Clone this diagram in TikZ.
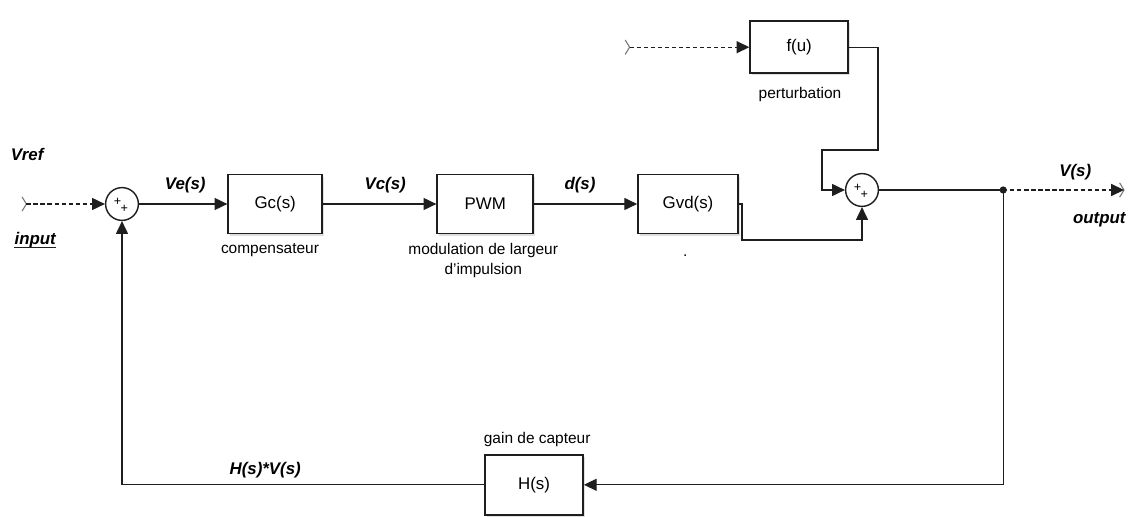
\documentclass[tikz,border=0pt]{standalone}
\usepackage{fontspec}
\setmainfont{Liberation Sans}
\usetikzlibrary{arrows.meta,shadows}
\definecolor{SLLine}{HTML}{1E1E1E}
\definecolor{SLPort}{HTML}{7A7A7A}

\begin{document}
\begin{tikzpicture}[x=1cm,y=1cm,
  blk/.style={draw=SLLine,line width=1.2pt,fill=white,minimum width=2.4cm,minimum height=1.5cm,
    font=\fontsize{12}{14}\selectfont,drop shadow={shadow xshift=1.5pt,shadow yshift=-1.5pt,opacity=.25}},
  sumblk/.style={draw=SLLine,line width=1pt,fill=white,circle,minimum size=0.82cm,inner sep=0pt},
  sig/.style={font=\fontsize{12}{14}\selectfont\bfseries\itshape},
  lbl/.style={font=\fontsize{11}{14}\selectfont},
  wire/.style={draw=SLLine,line width=0.9pt},
  arr/.style={wire,-{Triangle[length=0.32cm,width=0.3cm]}},
  darr/.style={arr,dash pattern=on 3pt off 2pt}]
\path[use as bounding box] (0,0) rectangle (28.20,12.90);
% blocks
\node[sumblk] (sum1) at (3.05,7.80) {};
\node[blk,minimum width=2.35cm,minimum height=1.48cm] (gc) at (6.88,7.80) {Gc(s)};
\node[blk,minimum width=2.40cm,minimum height=1.48cm] (pwm) at (12.13,7.80) {PWM};
\node[blk,minimum width=2.50cm,minimum height=1.48cm] (gvd) at (17.20,7.80) {Gvd(s)};
\node[sumblk] (sum2) at (21.55,8.15) {};
\node[blk,minimum width=2.45cm,minimum height=1.30cm] (fu) at (19.98,11.72) {f(u)};
\node[blk,minimum width=2.45cm,minimum height=1.50cm] (hs) at (13.35,0.78) {H(s)};
% signs of the sums
\foreach \s in {sum1,sum2}{
  \node[font=\fontsize{9}{9}\selectfont,inner sep=0pt] at ([shift={(-0.11,0.06)}]\s.center) {+};
  \node[font=\fontsize{9}{9}\selectfont,inner sep=0pt] at ([shift={(0.06,-0.11)}]\s.center) {+};
}
% ports
\coordinate (inport) at (0.66,7.80);
\coordinate (pertport) at (15.74,11.72);
\coordinate (outport) at (28.10,8.15);
\draw[SLPort,line width=0.8pt] (0.55,7.98) -- (inport) -- (0.55,7.62);
\draw[SLPort,line width=0.8pt] (15.63,11.90) -- (pertport) -- (15.63,11.54);
\draw[SLPort,line width=0.8pt] (27.99,8.33) -- (outport) -- (27.99,7.97);
\coordinate (branch) at (25.08,8.15);
\fill[SLLine] (branch) circle (0.09);
% connectors
\draw[darr] (inport) -- (sum1);
\draw[arr] (sum1) -- (gc);
\draw[arr] (gc) -- (pwm);
\draw[arr] (pwm) -- (gvd);
\draw[arr] (gvd.east) -- (18.55,7.80) -- (18.55,6.90) -| (sum2.south);
\draw[darr] (pertport) -- (fu);
\draw[arr] (fu.east) -| (21.95,9.15) -| (20.55,8.15) -- (sum2.west);
\draw[wire] (sum2) -- (branch);
\draw[darr] (branch) -- (outport);
\draw[arr] (branch) |- (hs.east);
\draw[arr] (hs.west) -| (sum1.south);
% labels
\node[sig] (vref) at (0.68,9.03) {Vref};
\node[sig,inner sep=0pt] (inlbl) at (0.88,6.90) {input};
\draw[SLLine,line width=0.8pt] ([yshift=-2pt]inlbl.base west) -- ([yshift=-2pt]inlbl.base east);
\node[sig] (ve) at (4.63,8.28) {Ve(s)};
\node[sig] (vc) at (9.63,8.28) {Vc(s)};
\node[sig] (ds) at (14.50,8.28) {d(s)};
\node[sig] (vs) at (26.88,8.60) {V(s)};
\node[sig,anchor=east,inner sep=1pt] (outlbl) at (28.18,7.40) {output};
\node[sig] (hv) at (6.63,1.15) {H(s)*V(s)};
\node[lbl] (comp) at (6.75,6.65) {compensateur};
\node[lbl,align=center] (mod) at (12.08,6.38) {modulation de largeur\\d'impulsion};
\node[lbl] (dot) at (17.13,6.50) {.};
\node[lbl] (pert) at (20.00,10.53) {perturbation};
\node[lbl] (gain) at (13.43,1.90) {gain de capteur};
\end{tikzpicture}
\end{document}
